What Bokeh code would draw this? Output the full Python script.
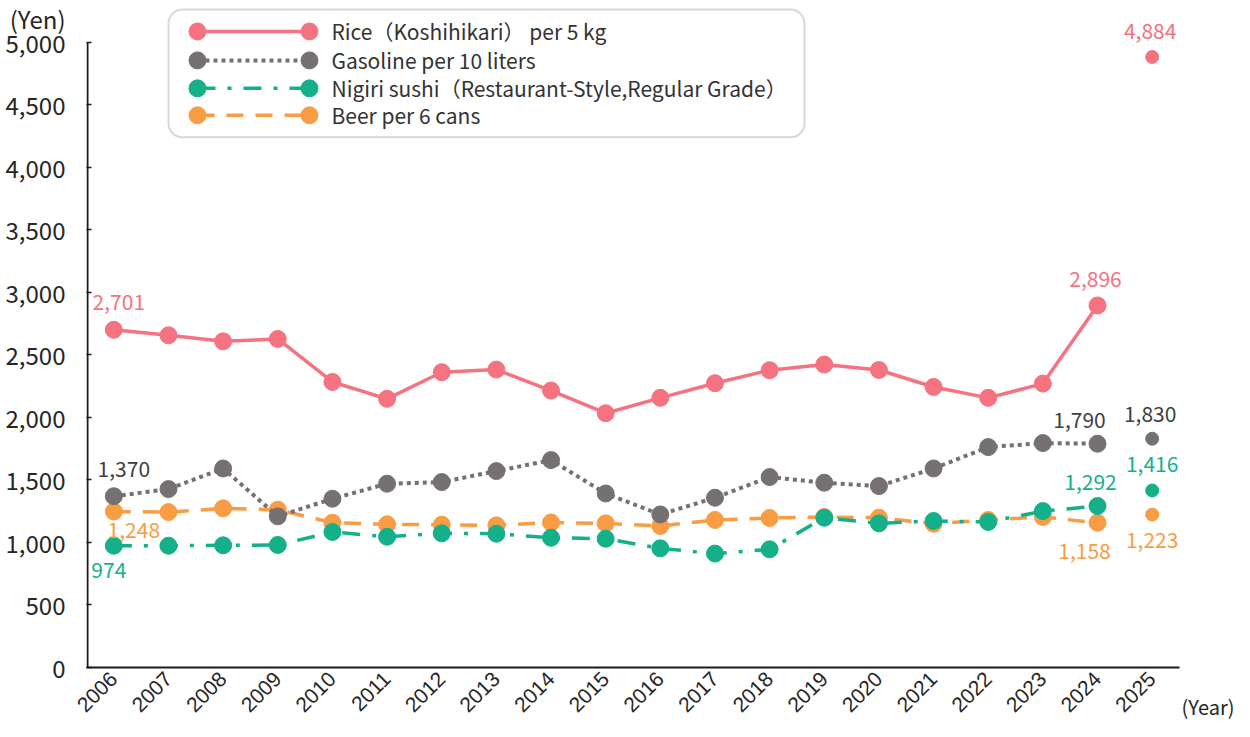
import math
from bokeh.plotting import figure
from bokeh.models import Range1d, FixedTicker, NumeralTickFormatter, Label, BoxAnnotation, ColumnDataSource
from bokeh.embed import file_html
from bokeh.resources import INLINE
from bokeh.core.properties import value

# ---------------- data ----------------
years = [str(y) for y in range(2006, 2026)]
rice = [2701, 2657, 2609, 2628, 2284, 2149, 2362, 2383, 2215, 2034, 2157, 2274, 2378, 2423, 2380, 2244, 2157, 2271, 2896, 4884]
gasoline = [1370, 1427, 1592, 1209, 1350, 1470, 1483, 1571, 1659, 1392, 1224, 1358, 1523, 1478, 1451, 1592, 1763, 1795, 1790, 1830]
sushi = [974, 974, 977, 980, 1084, 1046, 1073, 1070, 1038, 1030, 953, 911, 945, 1198, 1153, 1172, 1164, 1251, 1292, 1416]
beer = [1248, 1243, 1273, 1262, 1158, 1145, 1142, 1137, 1160, 1153, 1132, 1180, 1196, 1204, 1198, 1150, 1180, 1204, 1158, 1223]
series_names = ["Rice（Koshihikari） per 5 kg", "Gasoline per 10 liters",
                "Nigiri sushi（Restaurant-Style,Regular Grade）", "Beer per 6 cans"]
y_ticks = [0, 500, 1000, 1500, 2000, 2500, 3000, 3500, 4000, 4500, 5000]
y_unit = "(Yen)"
x_unit = "(Year)"

# ---------------- style ----------------
FONT = "Noto Sans CJK JP"
XFONT = "Liberation Sans"
C_RICE, C_GAS, C_SUSHI, C_BEER = "#F57280", "#767171", "#13B08A", "#F89D44"
TXT = "#262626"
AX = "#1a1a1a"
DASH_GAS, DASH_SUSHI, DASH_BEER = "4 4", "18 12 4 12", "17 12"

W, H = 1234, 721
LEFT, RIGHT, TOP, BOTTOM = 86, 55, 0, 53
FW = W - LEFT - RIGHT
FH = H - TOP - BOTTOM
PX_PER_YEN = 0.1252
Y_END = FH / PX_PER_YEN
N = len(years)

def dxp(px):
    return -0.5 + (px - LEFT) / FW * N

def dyp(py):
    return (TOP + FH - py) / PX_PER_YEN

p = figure(width=W, height=H, x_range=Range1d(-0.5, N - 0.5), y_range=Range1d(0, Y_END),
           output_backend="svg", toolbar_location=None,
           min_border_left=LEFT, min_border_right=RIGHT, min_border_top=TOP, min_border_bottom=BOTTOM)
p.outline_line_color = None
p.grid.visible = False
p.background_fill_color = "white"
p.border_fill_color = "white"

xa = p.xaxis[0]
xa.ticker = FixedTicker(ticks=list(range(N)))
xa.major_label_overrides = {i: y for i, y in enumerate(years)}
xa.major_label_orientation = math.pi / 4
xa.major_tick_line_color = None
xa.minor_tick_line_color = None
xa.major_label_text_font = XFONT
xa.major_label_text_font_size = "21px"
xa.major_label_text_color = TXT
xa.major_label_standoff = 2
xa.axis_line_color = AX
xa.axis_line_width = 2

# y axis: the unit "(Yen)" is shown as an extra top tick label; the axis line and
# the short inner ticks are drawn for 0..5000 only
yen_tick = int(round(dyp(4)))
ya = p.yaxis[0]
ya.ticker = FixedTicker(ticks=y_ticks + [yen_tick], minor_ticks=y_ticks)
ya.formatter = NumeralTickFormatter(format="0,0")
ya.major_label_overrides = {yen_tick: y_unit}
ya.major_tick_line_color = None
ya.major_tick_in = 0
ya.major_tick_out = 0
ya.minor_tick_in = 5
ya.minor_tick_out = 0
ya.minor_tick_line_color = AX
ya.minor_tick_line_width = 1.5
ya.major_label_text_font = FONT
ya.major_label_text_font_size = "24px"
ya.major_label_text_color = TXT
ya.major_label_standoff = 21
ya.axis_line_color = None
p.add_layout(BoxAnnotation(left=-0.5, right=dxp(LEFT + 2), bottom=0, top=y_ticks[-1],
                           fill_color=AX, fill_alpha=1, line_color=None))

x = list(range(N))
styles = [
    ("beer", beer, C_BEER, DASH_BEER, 3.5),
    ("sushi", sushi, C_SUSHI, DASH_SUSHI, 3.5),
    ("gasoline", gasoline, C_GAS, DASH_GAS, 4),
    ("rice", rice, C_RICE, "solid", 3.5),
]
for name, vals, col, dash, lw in styles:
    p.line(x[:-1], vals[:-1], line_color=col, line_width=lw, line_dash=dash, line_join="round")
    p.scatter(x[:-1], vals[:-1], size=17, fill_color=col, line_color=col)
    p.scatter(x[-1:], vals[-1:], size=13, fill_color=col, line_color=col)

# ---------------- data labels ----------------
series = {"rice": (rice, C_RICE), "gasoline": (gasoline, "#404040"),
          "sushi": (sushi, C_SUSHI), "beer": (beer, C_BEER)}
label_specs = [
    ("rice", 0, 5, -28), ("rice", 18, -2, -26), ("rice", 19, -2, -26),
    ("gasoline", 0, 10, -27), ("gasoline", 18, -18, -24), ("gasoline", 19, -2, -25),
    ("sushi", 0, -5, 24), ("sushi", 18, -7, -24), ("sushi", 19, 0, -26),
    ("beer", 0, 20, 19), ("beer", 18, -13, 28), ("beer", 19, 0, 25),
]
lab = dict(x=[], y=[], text=[], color=[], xo=[], yo=[])
for s, i, ox, oy in label_specs:
    vals, col = series[s]
    lab["x"].append(x[i]); lab["y"].append(vals[i])
    lab["text"].append(f"{vals[i]:,}"); lab["color"].append(col)
    lab["xo"].append(ox); lab["yo"].append(oy)
src = ColumnDataSource(lab)
p.text(x="x", y="y", text="text", source=src, text_color="color", x_offset="xo", y_offset="yo",
       text_align="center", text_baseline="middle", text_font=value(FONT), text_font_size="21px")

# ---------------- legend (manual, layout in canvas pixels) ----------------
box = BoxAnnotation(left=dxp(168), right=dxp(804), top=dyp(9), bottom=dyp(137),
                    fill_color="white", fill_alpha=1, line_color="#7F7F7F", line_width=2,
                    border_radius=14, level="underlay")
p.add_layout(box)
leg_rows = [31, 60, 88, 115]
leg_cols = [C_RICE, C_GAS, C_SUSHI, C_BEER]
leg_dash = ["solid", DASH_GAS, DASH_SUSHI, DASH_BEER]
leg_lw = [3.5, 4, 3.5, 3.5]
for r, col, dash, lw, name in zip(leg_rows, leg_cols, leg_dash, leg_lw, series_names):
    yy = dyp(r)
    p.line([dxp(197), dxp(309)], [yy, yy], line_color=col, line_width=lw, line_dash=dash)
    p.scatter([dxp(197), dxp(309)], [yy, yy], size=17, fill_color=col, line_color=col)
    p.text([dxp(331)], [yy], text=[name], text_color="#333333", text_align="left",
           text_baseline="middle", text_font=value(FONT), text_font_size="21px")

# "(Year)" unit, placed in the right side panel so that it is not clipped to the frame
p.add_layout(Label(x=N - 0.5, y=0, x_offset=2, y_offset=-39, text=x_unit, text_font=FONT,
                   text_font_size="20px", text_color=TXT, text_align="left",
                   text_baseline="middle"), "right")

open("out.html", "w").write(file_html(p, INLINE))
